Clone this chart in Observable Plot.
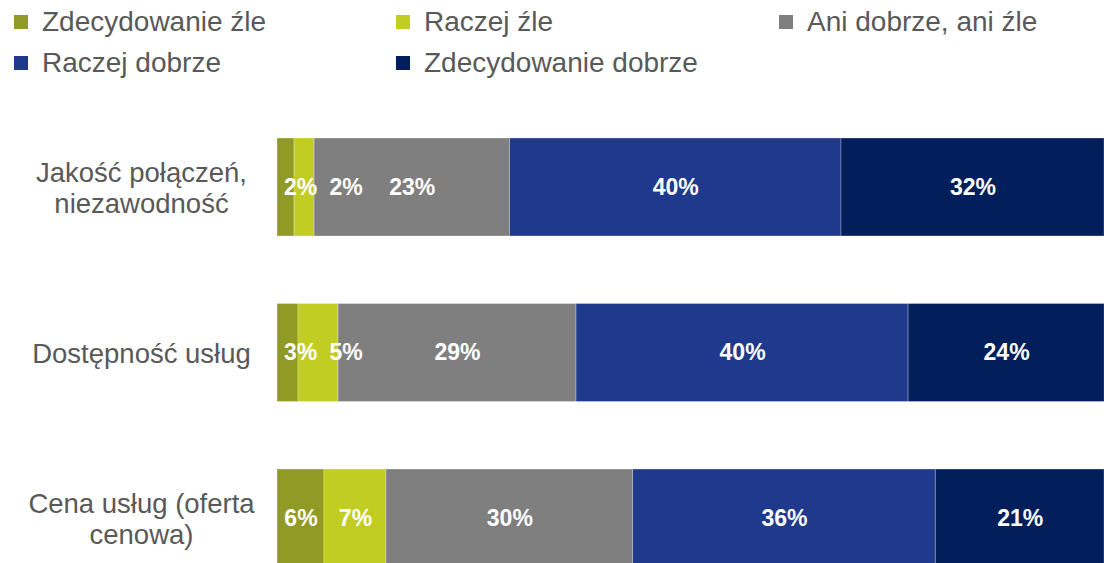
<!DOCTYPE html>
<html>
<head>
<meta charset="utf-8">
<script src="https://cdn.jsdelivr.net/npm/d3@7"></script>
<script src="https://cdn.jsdelivr.net/npm/@observablehq/plot@0.6"></script>
<style>
  html, body { margin: 0; padding: 0; background: #fff; overflow: hidden; }
  body { width: 1104px; height: 563px; font-family: "Liberation Sans", Arial, sans-serif; }
  #legend { position: relative; height: 100px; }
  .item { position: absolute; display: flex; align-items: center; font-size: 28px; color: #595959; white-space: nowrap; }
  .sw { width: 14px; height: 14px; margin-right: 14px; flex: none; }
  #chart svg { display: block; overflow: visible; }
</style>
</head>
<body>
<div id="legend"></div>
<div id="chart"></div>
<script>
// ---- data ----
const categories = ["Jakość połączeń, niezawodność", "Dostępność usług", "Cena usług (oferta cenowa)"];
const tickLabels = ["Jakość połączeń,\nniezawodność", "Dostępność usług", "Cena usług (oferta\ncenowa)"];
const levels = ["Zdecydowanie źle", "Raczej źle", "Ani dobrze, ani źle", "Raczej dobrze", "Zdecydowanie dobrze"];
const colors = ["#929a26", "#c2cd23", "#7f7f7f", "#1f3a8c", "#021f5b"];

const zdecydowanieZle    = [2.06, 2.54, 5.68];
const raczejZle          = [2.42, 4.84, 7.50];
const aniDobrzeAniZle    = [23.64, 28.78, 29.83];
const raczejDobrze       = [40.08, 40.15, 36.59];
const zdecydowanieDobrze = [31.80, 23.70, 20.40];

const labelsZdecydowanieZle    = ["2%", "3%", "6%"];
const labelsRaczejZle          = ["2%", "5%", "7%"];
const labelsAniDobrzeAniZle    = ["23%", "29%", "30%"];
const labelsRaczejDobrze       = ["40%", "40%", "36%"];
const labelsZdecydowanieDobrze = ["32%", "24%", "21%"];

const series = [zdecydowanieZle, raczejZle, aniDobrzeAniZle, raczejDobrze, zdecydowanieDobrze];
const seriesLabels = [labelsZdecydowanieZle, labelsRaczejZle, labelsAniDobrzeAniZle, labelsRaczejDobrze, labelsZdecydowanieDobrze];

// ---- legend ----
const legend = document.getElementById("legend");
const legendPos = [[14, 22], [396, 22], [779, 22], [14, 63], [396, 63]];
levels.forEach((lv, i) => {
  const it = document.createElement("div");
  it.className = "item";
  it.style.left = legendPos[i][0] + "px";
  it.style.top = (legendPos[i][1] - 16) + "px";
  it.style.height = "32px";
  const sw = document.createElement("span");
  sw.className = "sw";
  sw.style.background = colors[i];
  it.appendChild(sw);
  it.appendChild(document.createTextNode(lv));
  legend.appendChild(it);
});

// ---- table ----
const rows = [];
categories.forEach((c, ci) => {
  levels.forEach((lv, li) => {
    rows.push({category: c, level: lv, value: series[li][ci], label: seriesLabels[li][ci]});
  });
});

// label placement: segment centre, pushed right so small labels do not overlap
const minFirst = 2.8, minGap = 5.5;
const labelRows = [];
categories.forEach((c, ci) => {
  let cum = 0, prev = -Infinity;
  levels.forEach((lv, li) => {
    const v = series[li][ci];
    let x = cum + v / 2;
    if (li === 0) x = Math.max(x, minFirst);
    else x = Math.max(x, prev + minGap);
    prev = x;
    cum += v;
    labelRows.push({category: c, x, label: seriesLabels[li][ci]});
  });
});

const ticks = categories.map((c, i) => ({category: c, text: tickLabels[i]}));

const chart = Plot.plot({
  width: 1104,
  height: 467,
  marginLeft: 277,
  marginRight: 0,
  marginTop: 38,
  marginBottom: 0,
  style: {fontFamily: "'Liberation Sans', Arial, sans-serif", background: "transparent"},
  x: {domain: [0, 100], axis: null},
  y: {domain: categories, axis: null, paddingInner: 0.408, paddingOuter: 0, round: false},
  color: {domain: levels, range: colors},
  marks: [
    Plot.barX(rows, Plot.stackX({x: "value", y: "category", fill: "level", order: levels, stroke: "#ffffff", strokeOpacity: 0.35, strokeWidth: 0.8})),
    Plot.text(labelRows, {x: "x", y: "category", text: "label", fill: "white", fontWeight: "bold", fontSize: 23}),
    Plot.text(ticks, {y: "category", text: "text", frameAnchor: "left", dx: -136, textAnchor: "middle", fontSize: 27.5, lineHeight: 1.14, fill: "#595959"})
  ]
});
document.getElementById("chart").appendChild(chart);
</script>
</body>
</html>
